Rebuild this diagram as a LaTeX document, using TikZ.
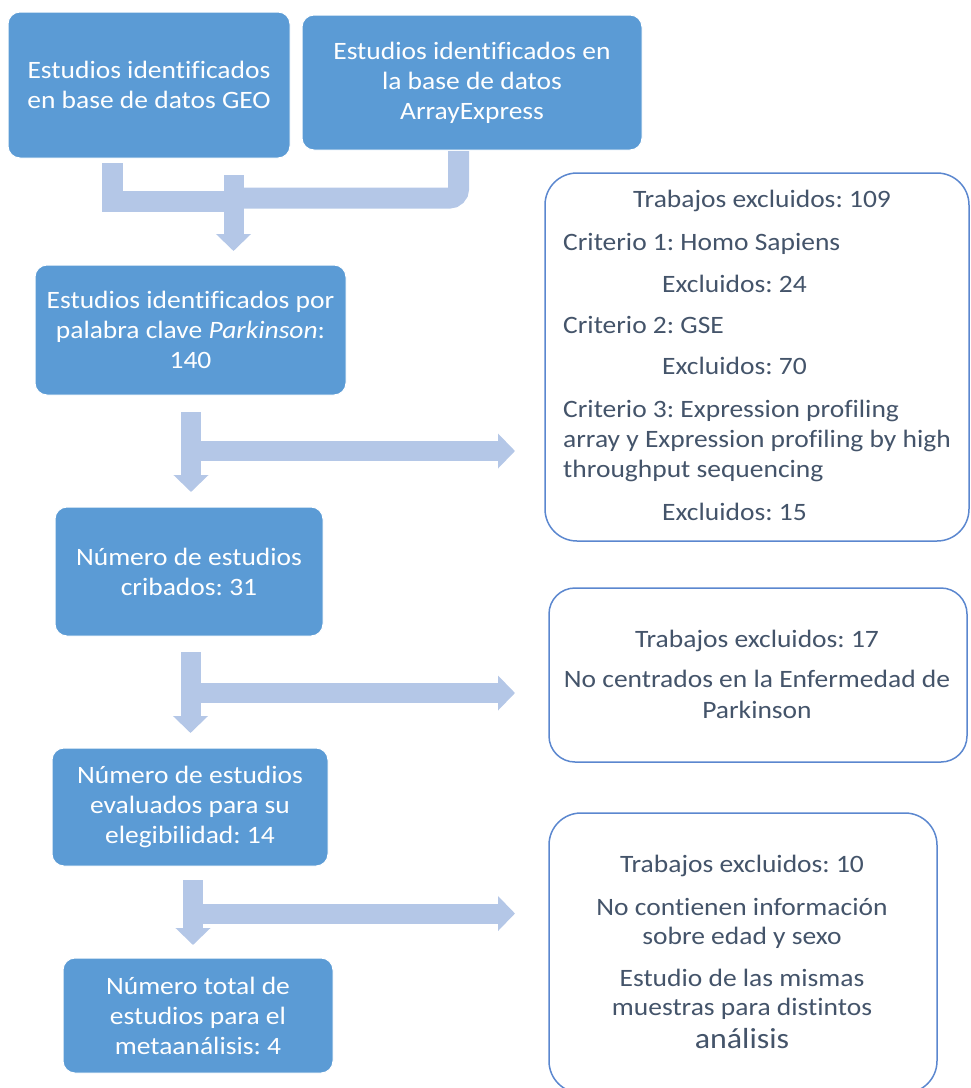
\documentclass[tikz,border=0pt]{standalone}
\usepackage{fontspec}
\setmainfont{Carlito}[FakeStretch=1.1,Ligatures=NoCommon]
\frenchspacing
\usetikzlibrary{arrows.meta}
\definecolor{boxblue}{HTML}{5B9BD5}
\definecolor{arrblue}{HTML}{B4C7E7}
\definecolor{edgeblue}{HTML}{5B87CF}
\definecolor{txtgray}{HTML}{44546A}
\tikzset{
  bluebox/.style={rectangle, rounded corners=12pt, fill=boxblue, draw=white, line width=1pt,
    text=white, align=center, font=\fontsize{25}{30}\selectfont, inner sep=0pt},
  whitebox/.style={rectangle, draw=edgeblue, line width=1.5pt, fill=white},
  gtxt/.style={text=txtgray, font=\fontsize{25}{30}\selectfont, inner sep=0pt},
  blockarrow/.style={draw=arrblue, line width=20pt, line cap=butt,
    -{Triangle[length=17pt,width=34pt]}},
  blockbar/.style={draw=arrblue, line width=21pt, line cap=butt}
}
\begin{document}
\begin{tikzpicture}[x=1pt,y=-1pt]
\useasboundingbox (0,0) rectangle (971,1088);
\clip (0,0) rectangle (971,1088);
% blue boxes
\node[bluebox, minimum width=282pt, minimum height=146pt] (b1) at (149,85) {Estudios identificados\\en base de datos GEO};
\node[bluebox, minimum width=340pt, minimum height=135pt] (b2) at (472,82.5) {Estudios identificados en\\la base de datos\\ArrayExpress};
\node[bluebox, minimum width=311pt, minimum height=130pt] (b3) at (190.5,330) {Estudios identificados por\\palabra clave \textit{Parkinson}:\\140};
\node[bluebox, minimum width=268pt, minimum height=129pt] (b4) at (189,571.5) {Número de estudios\\cribados: 31};
\node[bluebox, minimum width=276pt, minimum height=118pt] (b5) at (190,807) {Número de estudios\\evaluados para su\\elegibilidad: 14};
\node[bluebox, minimum width=270pt, minimum height=115pt] (b6) at (198,1015.5) {Número total de\\estudios para el\\metaanálisis: 4};
% white boxes
\node[whitebox, rounded corners=32pt, minimum width=424pt, minimum height=368pt] (r1) at (757,357) {};
\node[whitebox, rounded corners=26pt, minimum width=418pt, minimum height=174pt] (r2) at (758,675) {};
\node[whitebox, rounded corners=32pt, minimum width=388pt, minimum height=280pt] (r3) at (743,953) {};
% texts of r1
\node[gtxt, anchor=base] (t1a) at (762,207) {Trabajos excluidos: 109};
\node[gtxt, anchor=base west] (t1b) at (563,250) {Criterio 1: Homo Sapiens};
\node[gtxt, anchor=base west] (t1c) at (662,292) {Excluidos: 24};
\node[gtxt, anchor=base west] (t1d) at (563,333) {Criterio 2: GSE};
\node[gtxt, anchor=base west] (t1e) at (662,374) {Excluidos: 70};
\node[gtxt, anchor=base west] (t1f) at (563,417) {Criterio 3: Expression profiling};
\node[gtxt, anchor=base west] (t1g) at (563,447) {array y Expression profiling by high};
\node[gtxt, anchor=base west] (t1h) at (563,477) {throughput sequencing};
\node[gtxt, anchor=base west] (t1i) at (662,520) {Excluidos: 15};
% texts of r2
\node[gtxt, anchor=base] (t2a) at (757,647) {Trabajos excluidos: 17};
\node[gtxt, anchor=base] (t2b) at (757,687) {No centrados en la Enfermedad de};
\node[gtxt, anchor=base] (t2c) at (757,718) {Parkinson};
% texts of r3
\node[gtxt, anchor=base] (t3a) at (742,872) {Trabajos excluidos: 10};
\node[gtxt, anchor=base] (t3b) at (742,915) {No contienen información};
\node[gtxt, anchor=base] (t3c) at (742,944) {sobre edad y sexo};
\node[gtxt, anchor=base] (t3d) at (742,986) {Estudio de las mismas};
\node[gtxt, anchor=base] (t3e) at (742,1015) {muestras para distintos};
\node[gtxt, anchor=base, font=\fontsize{29}{34}\selectfont] (t3f) at (742,1048) {análisis};
% merge connectors
\coordinate (m1a) at (112,163);
\coordinate (m1b) at (112,201.5);
\coordinate (m1c) at (236,201.5);
\coordinate (m2a) at (458.5,151);
\coordinate (m2b) at (458.5,198);
\coordinate (m2c) at (230,198);
\coordinate (mc) at (233.5,175);
\draw[blockbar, line join=miter] (m1a) -- (m1b) -- (m1c);
\draw[blockbar, rounded corners=9pt] (m2a) -- (m2b) -- (m2c);
\draw[blockarrow] (mc) -- (233.5,251) coordinate (mtip);
% arrows 1
\coordinate (a1s) at (191,412);
\draw[blockarrow] (a1s) -- (191,492);
\draw[blockarrow] (191,451) -- (515,451);
% arrows 2
\coordinate (a2s) at (190.5,652);
\draw[blockarrow] (a2s) -- (190.5,733);
\draw[blockarrow] (190.5,693) -- (515,693);
% arrows 3
\coordinate (a3s) at (193,880);
\draw[blockarrow] (a3s) -- (193,945);
\draw[blockarrow] (193,913.5) -- (515,913.5);
\end{tikzpicture}
\end{document}
